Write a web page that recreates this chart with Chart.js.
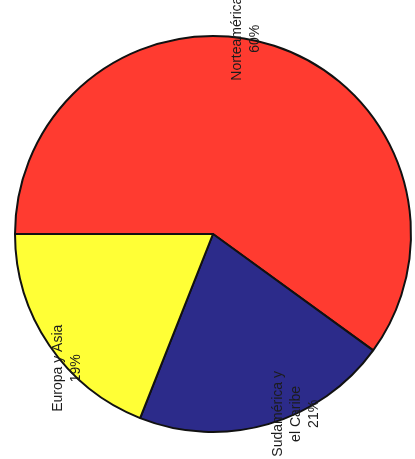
<!DOCTYPE html>
<html>
<head>
<meta charset="utf-8">
<script src="https://cdn.jsdelivr.net/npm/chart.js@4"></script>
<style>
  html, body { margin: 0; padding: 0; background: #fff; }
  #contenedor { width: 415px; height: 459px; }
</style>
</head>
<body>
<div id="contenedor"><canvas id="torta"></canvas></div>
<script>
// regiones y porcentajes
const regiones = [["Norteamérica"], ["Sudamérica y", "el Caribe"], ["Europa y Asia"]];
const porcentajes = [60, 21, 19];
const colores = ['#FF3B30', '#2C2B8A', '#FFFF36'];

// etiquetas giradas 90°, puestas en el borde de cada porción
const etiquetasGiradas = {
    id: 'etiquetasGiradas',
    afterDatasetsDraw(chart) {
        const ctx = chart.ctx;
        const meta = chart.getDatasetMeta(0);
        ctx.save();
        ctx.font = '14px "Liberation Sans", Arial, sans-serif';
        ctx.fillStyle = '#1c1c1c';
        ctx.textAlign = 'center';
        ctx.textBaseline = 'middle';
        meta.data.forEach((arco, i) => {
            const p = arco.getProps(['x', 'y', 'startAngle', 'endAngle', 'outerRadius'], true);
            const medio = (p.startAngle + p.endAngle) / 2 - 8.5 * Math.PI / 180;
            const r = p.outerRadius * 1.0;
            const px = p.x + Math.cos(medio) * r;
            const py = p.y + Math.sin(medio) * r;
            const lineas = regiones[i].concat([porcentajes[i] + '%']);
            const alto = 18;
            ctx.save();
            ctx.translate(px, py);
            ctx.rotate(-Math.PI / 2);
            lineas.forEach((txt, j) => {
                ctx.fillText(txt, 0, (j - (lineas.length - 1) / 2) * alto);
            });
            ctx.restore();
        });
        ctx.restore();
    }
};

const data = {
    labels: regiones.map(r => r.join(' ')),
    datasets: [{
        data: porcentajes,
        backgroundColor: colores,
        borderColor: '#111',
        borderWidth: 2
    }]
};

const config = {
    type: 'pie',
    data: data,
    options: {
        responsive: true,
        maintainAspectRatio: false,
        animation: false,
        rotation: -90,
        radius: 198,
        layout: {
            padding: { left: 11, right: 0, top: 9, bottom: 0 }
        },
        plugins: {
            legend: { display: false },
            tooltip: { enabled: false }
        }
    },
    plugins: [etiquetasGiradas]
};

const miTorta = new Chart(document.getElementById('torta'), config);
</script>
</body>
</html>
